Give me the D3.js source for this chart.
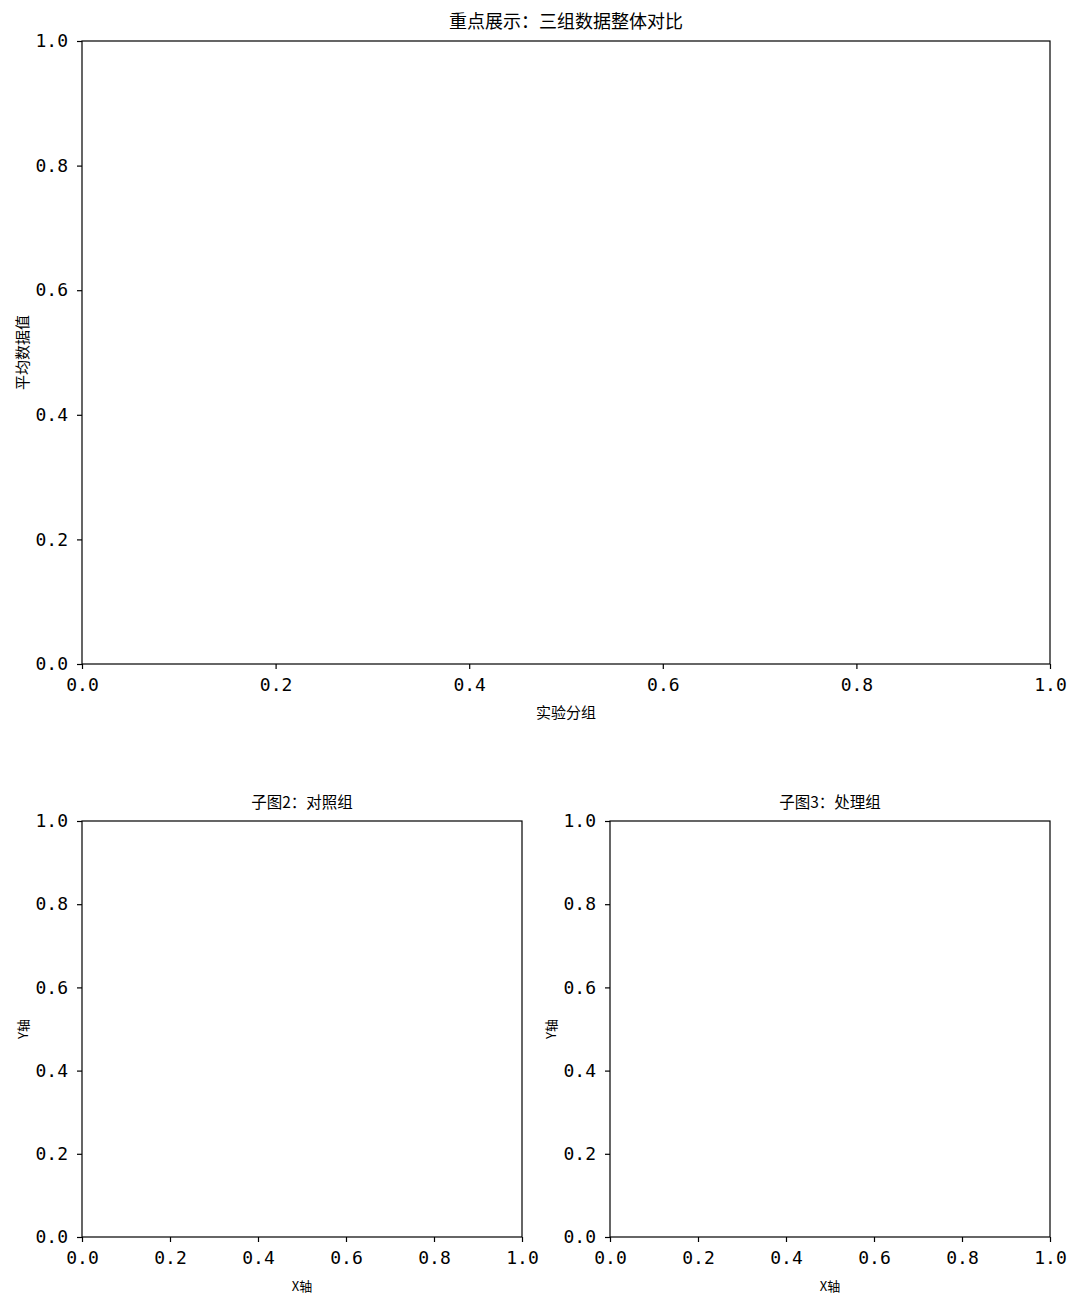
<!DOCTYPE html>
<html>
<head>
<meta charset="utf-8">
<script src="https://cdn.jsdelivr.net/npm/d3@7"></script>
<style>
  body { margin: 0; background: #fff; }
  .tick text { font-family: "DejaVu Sans Mono", monospace; font-size: 18px; fill: #000; }
  .tick line { stroke: #000; }
  .cjk { font-family: "Noto Sans CJK SC", sans-serif; fill: #000; }
</style>
</head>
<body>
<div id="chart"></div>
<script>
// empty axes, default 0..1 ranges
const tickValues = [0.0, 0.2, 0.4, 0.6, 0.8, 1.0];
const panelTitles = ['重点展示：三组数据整体对比', '子图2：对照组', '子图3：处理组'];
const xLabels = ['实验分组', 'X轴', 'X轴'];
const yLabels = ['平均数据值', 'Y轴', 'Y轴'];

document.addEventListener('DOMContentLoaded', function() {
  const width = 1080, height = 1304;
  const svg = d3.select('#chart').append('svg')
    .attr('width', width)
    .attr('height', height);

  const panels = [
    {x0: 82, x1: 1050, y0: 41, y1: 664, titleSize: 18, labelSize: 15},
    {x0: 82, x1: 522, y0: 821, y1: 1237, titleSize: 15.5, labelSize: 13},
    {x0: 610, x1: 1050, y0: 821, y1: 1237, titleSize: 15.5, labelSize: 13}
  ];

  panels.forEach(function(p, i) {
    const x = d3.scaleLinear().domain([0, 1]).range([p.x0, p.x1]);
    const y = d3.scaleLinear().domain([0, 1]).range([p.y1, p.y0]);
    const fmt = d3.format('.1f');

    const g = svg.append('g');

    g.append('g')
      .attr('transform', `translate(0,${p.y1})`)
      .call(d3.axisBottom(x).tickValues(tickValues).tickFormat(fmt).tickSizeInner(5).tickSizeOuter(0).tickPadding(9))
      .call(a => a.select('.domain').remove());

    g.append('g')
      .attr('transform', `translate(${p.x0},0)`)
      .call(d3.axisLeft(y).tickValues(tickValues).tickFormat(fmt).tickSizeInner(5).tickSizeOuter(0).tickPadding(9))
      .call(a => a.select('.domain').remove());

    g.selectAll('.tick line').attr('stroke-width', 1.2);

    // frame
    g.append('rect')
      .attr('x', p.x0).attr('y', p.y0)
      .attr('width', p.x1 - p.x0).attr('height', p.y1 - p.y0)
      .attr('fill', 'none').attr('stroke', '#000').attr('stroke-width', 1.2);

    g.append('text')
      .attr('class', 'cjk')
      .attr('x', (p.x0 + p.x1) / 2)
      .attr('y', p.y0 - 13)
      .attr('text-anchor', 'middle')
      .attr('font-size', p.titleSize + 'px')
      .text(panelTitles[i]);

    g.append('text')
      .attr('class', 'cjk')
      .attr('x', (p.x0 + p.x1) / 2)
      .attr('y', p.y1 + 54)
      .attr('text-anchor', 'middle')
      .attr('font-size', p.labelSize + 'px')
      .text(xLabels[i]);

    g.append('text')
      .attr('class', 'cjk')
      .attr('transform', `translate(${p.x0 - 54},${(p.y0 + p.y1) / 2}) rotate(-90)`)
      .attr('text-anchor', 'middle')
      .attr('font-size', p.labelSize + 'px')
      .text(yLabels[i]);
  });
});
</script>
</body>
</html>
